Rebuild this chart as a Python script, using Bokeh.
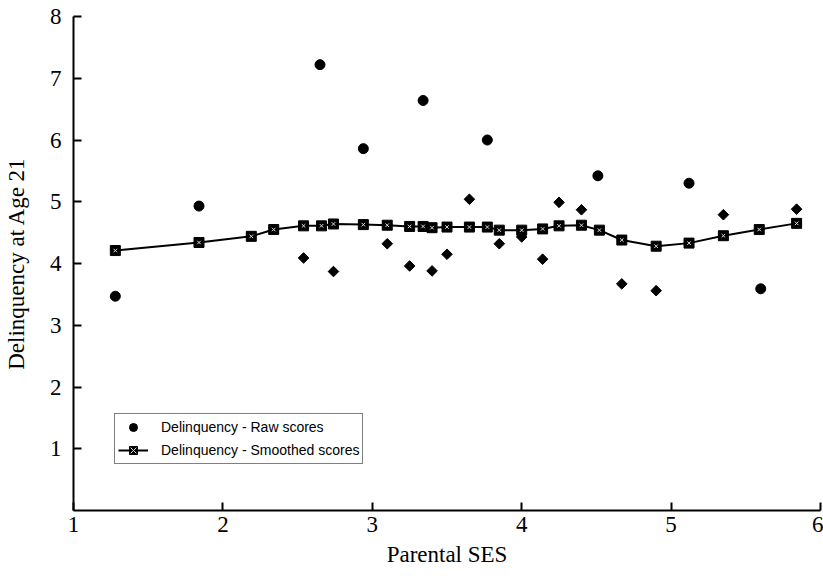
import numpy as np
from bokeh.plotting import figure
from bokeh.models import Legend, LegendItem, FixedTicker, Range1d
from bokeh.embed import file_html
from bokeh.resources import INLINE

# Smoothed scores (line with square markers)
ses_smooth = [1.28, 1.84, 2.19, 2.34, 2.54, 2.66, 2.74, 2.94, 3.10, 3.25, 3.34, 3.40, 3.50,
              3.65, 3.77, 3.85, 4.00, 4.14, 4.25, 4.40, 4.52, 4.67, 4.90, 5.12, 5.35, 5.59, 5.84]
delinq_smooth = [4.21, 4.34, 4.44, 4.55, 4.61, 4.61, 4.64, 4.63, 4.62, 4.60, 4.60, 4.58, 4.59,
                 4.59, 4.59, 4.54, 4.54, 4.56, 4.61, 4.62, 4.54, 4.38, 4.28, 4.33, 4.45, 4.55, 4.65]

# Raw scores (circles)
ses_raw_c = [1.28, 1.84, 2.65, 2.94, 3.34, 3.77, 4.51, 5.12, 5.60]
delinq_raw_c = [3.47, 4.93, 7.22, 5.86, 6.64, 6.00, 5.42, 5.30, 3.59]

# Raw scores (diamonds)
ses_raw_d = [2.54, 2.74, 3.10, 3.25, 3.40, 3.50, 3.65, 3.85, 4.00, 4.14, 4.25, 4.40, 4.67, 4.90, 5.35, 5.84]
delinq_raw_d = [4.09, 3.87, 4.32, 3.96, 3.88, 4.15, 5.04, 4.32, 4.43, 4.07, 4.99, 4.87, 3.67, 3.56, 4.79, 4.88]

x_ticks = [1, 2, 3, 4, 5, 6]
y_ticks = [1, 2, 3, 4, 5, 6, 7, 8]

p = figure(width=823, height=576, output_backend="svg", toolbar_location=None,
           x_range=Range1d(1, 6), y_range=Range1d(0, 8),
           min_border_left=72, min_border_right=3, min_border_top=16, min_border_bottom=66)
p.outline_line_color = None
p.grid.visible = False
p.background_fill_color = "white"
p.border_fill_color = "white"

serif = "Liberation Serif"
for ax in (p.xaxis[0], p.yaxis[0]):
    ax.axis_line_width = 2
    ax.axis_line_color = "black"
    ax.major_tick_in = 8
    ax.major_tick_out = 0
    ax.major_tick_line_width = 2
    ax.minor_tick_line_color = None
    ax.major_label_text_font = serif
    ax.major_label_text_font_size = "23px"
    ax.major_label_text_color = "black"
    ax.axis_label_text_font = serif
    ax.axis_label_text_font_size = "23px"
    ax.axis_label_text_font_style = "normal"
    ax.axis_label_text_color = "black"

p.xaxis.ticker = FixedTicker(ticks=x_ticks)
p.yaxis.ticker = FixedTicker(ticks=y_ticks)
p.xaxis.axis_label = "Parental SES"
p.yaxis.axis_label = "Delinquency at Age 21"
p.xaxis.major_label_standoff = 6
p.yaxis.major_label_standoff = 12
p.xaxis.axis_label_standoff = 7
p.yaxis.axis_label_standoff = 18

line = p.line(ses_smooth, delinq_smooth, line_color="black", line_width=2)
sq = p.scatter(ses_smooth, delinq_smooth, marker="square", size=10,
               fill_color="black", line_color="black")
sx = p.scatter(ses_smooth, delinq_smooth, marker="x", size=5,
               line_color="#dddddd", line_width=1)

circ = p.scatter(ses_raw_c, delinq_raw_c, marker="circle", size=10,
                 fill_color="black", line_color="black")
dia = p.scatter(ses_raw_d, delinq_raw_d, marker="square", size=7.5, angle=np.pi / 4,
                fill_color="black", line_color="black")

legend = Legend(items=[
    LegendItem(label="Delinquency - Raw scores", renderers=[circ]),
    LegendItem(label="Delinquency - Smoothed scores", renderers=[line, sq, sx]),
], location=(41, 46))
legend.border_line_color = "black"
legend.border_line_width = 1.5
legend.background_fill_color = "white"
legend.background_fill_alpha = 1
legend.padding = 3
legend.spacing = 3
legend.margin = 0
legend.label_height = 20
legend.glyph_height = 20
legend.glyph_width = 30
legend.label_standoff = 13
legend.label_text_font = "Liberation Sans"
legend.label_text_font_size = "14px"
legend.label_text_color = "black"
p.add_layout(legend, "center")

open("out.html", "w").write(file_html(p, INLINE))
